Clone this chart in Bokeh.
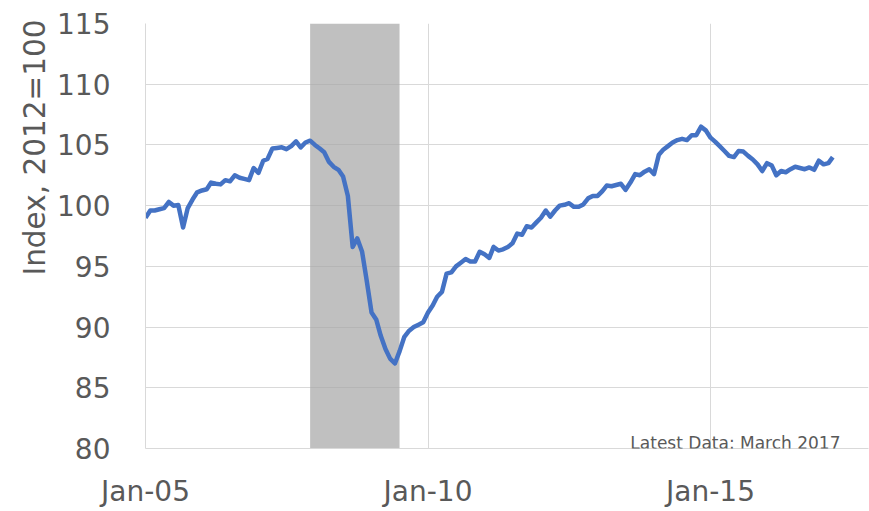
import pandas as pd
from datetime import datetime
from bokeh.plotting import figure
from bokeh.models import Range1d, FixedTicker, DatetimeTickFormatter, Label, Title
from bokeh.embed import file_html
from bokeh.resources import INLINE

# Monthly index values (2012=100), Jan 2005 - Mar 2017
y2005 = [99.0, 99.6, 99.6, 99.7, 99.8, 100.3, 100.0, 100.05, 98.2, 99.8, 100.5, 101.1]
y2006 = [101.25, 101.35, 101.9, 101.8, 101.75, 102.1, 102.0, 102.5, 102.3, 102.2, 102.1, 103.1]
y2007 = [102.7, 103.7, 103.85, 104.7, 104.75, 104.8, 104.65, 104.9, 105.3, 104.8, 105.2, 105.35]
y2008 = [105.0, 104.7, 104.4, 103.6, 103.2, 102.95, 102.4, 100.8, 96.6, 97.3, 96.2, 93.8]
y2009 = [91.2, 90.6, 89.3, 88.2, 87.4, 87.0, 88.0, 89.2, 89.7, 90.0, 90.2, 90.4]
y2010 = [91.2, 91.8, 92.5, 92.9, 94.4, 94.5, 95.0, 95.3, 95.6, 95.4, 95.4, 96.2]
y2011 = [96.0, 95.7, 96.6, 96.3, 96.4, 96.6, 96.9, 97.7, 97.6, 98.3, 98.2, 98.6]
y2012 = [99.0, 99.6, 99.1, 99.6, 100.0, 100.07, 100.2, 99.9, 99.9, 100.1, 100.6, 100.8]
y2013 = [100.8, 101.2, 101.65, 101.6, 101.7, 101.8, 101.3, 101.9, 102.6, 102.5, 102.8, 103.0]
y2014 = [102.6, 104.2, 104.6, 104.9, 105.2, 105.4, 105.5, 105.4, 105.8, 105.8, 106.5, 106.2]
y2015 = [105.6, 105.25, 104.9, 104.5, 104.1, 104.0, 104.5, 104.45, 104.1, 103.8, 103.4, 102.85]
y2016 = [103.5, 103.3, 102.5, 102.85, 102.75, 103.0, 103.2, 103.1, 103.0, 103.15, 102.95, 103.7]
y2017 = [103.4, 103.5, 104.0]

values = (y2005 + y2006 + y2007 + y2008 + y2009 + y2010 + y2011 + y2012
          + y2013 + y2014 + y2015 + y2016 + y2017)
dates = pd.date_range("2005-01-01", periods=len(values), freq="MS")

recession_start = datetime(2007, 12, 1)
recession_end = datetime(2009, 7, 1)

y_ticks = [80, 85, 90, 95, 100, 105, 110, 115]
x_tick_dates = [datetime(2005, 1, 1), datetime(2010, 1, 1), datetime(2015, 1, 1)]
y_title = "Index, 2012=100"
note = "Latest Data: March 2017"

TEXT = "#595959"
GRID = "#d9d9d9"
FONT = "DejaVu Sans"

p = figure(width=869, height=511, output_backend="svg", toolbar_location=None,
           x_axis_type="datetime",
           x_range=Range1d(datetime(2005, 1, 1), datetime(2017, 10, 18)),
           y_range=Range1d(80, 115),
           min_border_left=145, min_border_right=1, min_border_top=23,
           min_border_bottom=63)
p.outline_line_color = None
p.background_fill_color = "white"
p.border_fill_color = "white"

# recession shading
p.quad(left=[recession_start], right=[recession_end], bottom=[80], top=[115],
       fill_color="#a6a6a6", fill_alpha=0.71, line_color=None)

p.line(dates, values, line_color="#4472C4", line_width=4.5, line_join="round")

tick_ms = [pd.Timestamp(d).value // 10**6 for d in x_tick_dates]
p.xaxis.ticker = FixedTicker(ticks=tick_ms)
p.xgrid.ticker = FixedTicker(ticks=tick_ms)
fmt = "%b-%y"
p.xaxis.formatter = DatetimeTickFormatter(
    milliseconds=fmt, seconds=fmt, minsec=fmt, minutes=fmt, hourmin=fmt,
    hours=fmt, days=fmt, months=fmt, years=fmt)
p.yaxis.ticker = FixedTicker(ticks=y_ticks)

for ax in (p.xaxis, p.yaxis):
    ax.axis_line_color = GRID
    ax.axis_line_width = 1
    ax.major_tick_line_color = None
    ax.minor_tick_line_color = None
    ax.major_tick_out = 0
    ax.major_tick_in = 0
    ax.major_label_text_font = FONT
    ax.major_label_text_font_size = "28px"
    ax.major_label_text_color = TEXT
p.yaxis.major_label_standoff = 35
p.xaxis.major_label_standoff = 26

p.xgrid.grid_line_color = GRID
p.ygrid.grid_line_color = GRID
p.xgrid.grid_line_width = 1
p.ygrid.grid_line_width = 1

p.add_layout(Title(text=y_title, align="right", offset=-4, text_font=FONT,
                   text_font_size="29.5px", text_color=TEXT,
                   text_font_style="normal", standoff=6), "left")
p.add_layout(Label(x=695, y=6, x_units="screen", y_units="screen",
                   text=note, text_align="right", text_baseline="alphabetic",
                   text_font=FONT, text_font_size="17px", text_color=TEXT))

open("out.html", "w").write(file_html(p, INLINE))
